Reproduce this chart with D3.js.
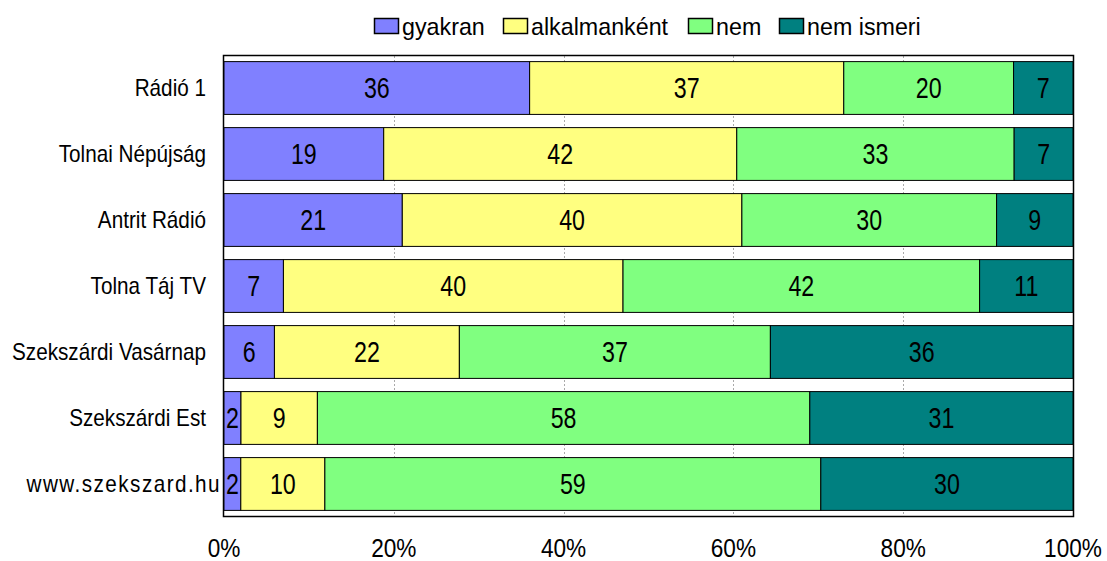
<!DOCTYPE html>
<html><head><meta charset="utf-8">
<script src="https://cdn.jsdelivr.net/npm/d3@7"></script>
<style>body{margin:0;background:#fff}svg{display:block}text{font-family:"Liberation Sans",Arial,sans-serif}</style>
</head><body><svg id="c" width="1107" height="561"></svg>
<script>
const categories = ["Rádió 1","Tolnai Népújság","Antrit Rádió","Tolna Táj TV","Szekszárdi Vasárnap","Szekszárdi Est","www.szekszard.hu"];
const seriesNames = ["gyakran","alkalmanként","nem","nem ismeri"];
const gyakran = [36,19,21,7,6,2,2];
const alkalmankent = [37,42,40,40,22,9,10];
const nem = [20,33,30,42,37,58,59];
const nemIsmeri = [7,7,9,11,36,31,30];
const tickLabels = ["0%","20%","40%","60%","80%","100%"];
const colors = ["#8080ff","#ffff80","#80ff80","#008080"];

const svg = d3.select("#c");
const m = {l:224, r:1073, t:56, b:516};
const x = d3.scaleLinear().domain([0,1]).range([m.l, m.r]);
const y = d3.scaleBand().domain(categories).range([m.t, m.b]).paddingInner(0.2).paddingOuter(0.085);

const rows = categories.map((c,i)=>{
  const vals=[gyakran[i],alkalmankent[i],nem[i],nemIsmeri[i]];
  const tot=d3.sum(vals); let acc=0;
  return vals.map((v,j)=>{const s={cat:c,k:j,v,x0:acc/tot,x1:(acc+v)/tot};acc+=v;return s;});
});

// gridlines
svg.append("g").selectAll("line").data([0.2,0.4,0.6,0.8]).join("line")
  .attr("x1",d=>Math.round(x(d))+0.5).attr("x2",d=>Math.round(x(d))+0.5).attr("y1",m.t).attr("y2",m.b)
  .attr("stroke","#aaa").attr("stroke-dasharray","2,2").attr("stroke-width",1);

// frame
svg.append("rect").attr("x",m.l-0.5).attr("y",m.t-0.5).attr("width",m.r-m.l+1).attr("height",m.b-m.t+1)
  .attr("fill","none").attr("stroke","#000").attr("stroke-width",1.5);

const segs = rows.flat();
const g = svg.append("g");
g.selectAll("rect").data(segs).join("rect")
  .attr("x",d=>x(d.x0)).attr("width",d=>x(d.x1)-x(d.x0))
  .attr("y",d=>y(d.cat)).attr("height",y.bandwidth())
  .attr("fill",d=>colors[d.k]).attr("stroke","#000").attr("stroke-width",1);

g.selectAll("text").data(segs).join("text")
  .attr("transform",d=>`translate(${(x(d.x0)+x(d.x1))/2},${y(d.cat)+y.bandwidth()/2}) scale(0.8,1)`)
  .attr("dy","0.36em").attr("text-anchor","middle").attr("font-size",29)
  .attr("fill","#000").text(d=>d.v);

// category labels
svg.append("g").selectAll("text").data(categories).join("text")
  .attr("transform",d=>`translate(${d.startsWith("www")?m.l-3:206},${y(d)+y.bandwidth()/2}) scale(0.9,1)`)
  .attr("dy","0.36em")
  .attr("text-anchor","end").attr("font-size",23)
  .attr("letter-spacing",d=>d.startsWith("www")?"1.6px":null)
  .text(d=>d);

// x axis tick labels
svg.append("g").selectAll("text").data(tickLabels).join("text")
  .attr("transform",(d,i)=>`translate(${x(i/5)},557) scale(0.87,1)`)
  .attr("text-anchor","middle").attr("font-size",26)
  .text(d=>d);

// legend
const legX=[374,503,688,779];
const lg = svg.append("g").selectAll("g").data(seriesNames).join("g")
  .attr("transform",(d,i)=>`translate(${legX[i]},0)`);
lg.append("rect").attr("x",0.5).attr("y",18.5).attr("width",24).attr("height",15)
  .attr("fill",(d,i)=>colors[i]).attr("stroke","#000").attr("stroke-width",1.5);
lg.append("text").attr("transform","translate(28,35) scale(0.97,1)").attr("font-size",24).text(d=>d);
</script></body></html>
